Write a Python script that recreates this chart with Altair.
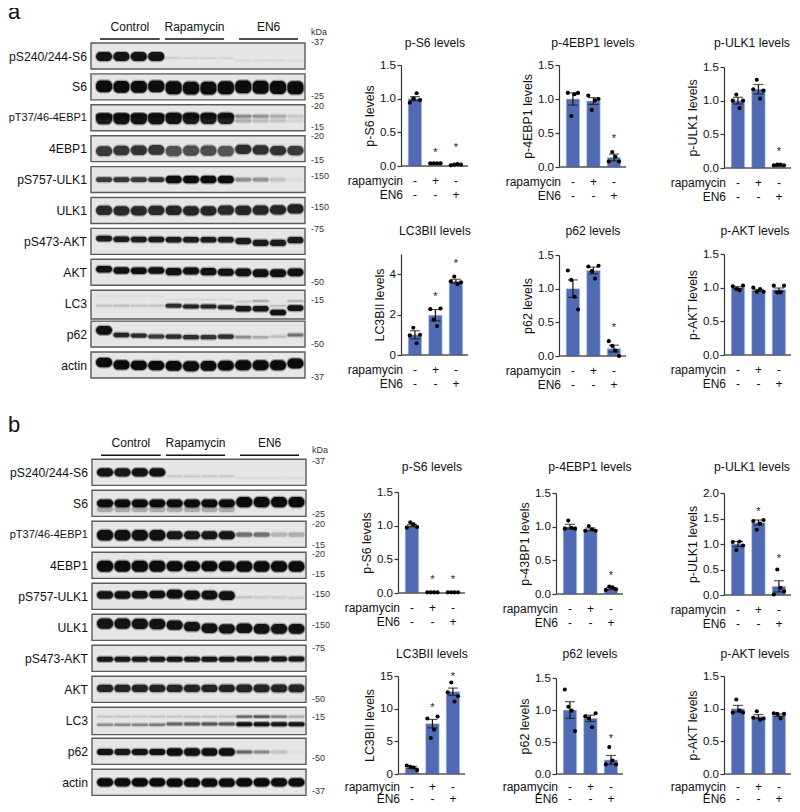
import altair as alt
import pandas as pd

FONT = "Liberation Sans"
BAR = "#4f6bb4"
LANES = list(range(12))

ROWS = ["pS240/244-S6", "S6", "pT37/46-4EBP1", "4EBP1", "pS757-ULK1", "ULK1",
        "pS473-AKT", "AKT", "LC3", "p62", "actin"]
GROUPS = ["Control", "Rapamycin", "EN6"]

def g(a, b, c):
    return [a] * 4 + [b] * 4 + [c] * 4

A_BOX = [.84, .84, .84, .84, .84, .84, .84, .84, .93, .84, .84]
B_BOX = [.84, .84, .84, .84, .84, .84, .84, .84, .88, .84, .84]

A_DARK = [
    [.95, .95, .95, .95, .08, .07, .07, .06, .05, .05, .05, .04],
    [1] * 12,
    [.92, .97, .97, .97, .95, .92, .9, .88, .2, .15, .12, .06],
    [.72, .74, .76, .74, .6, .62, .62, .58, .8, .78, .76, .72],
    [.72, .75, .72, .76, .98, .98, .98, .98, .32, .3, .12, .03],
    [.82, .82, .82, .82, .84, .84, .84, .82, .84, .84, .84, .86],
    [.9] * 12,
    [.97] * 12,
    [.14, .16, .13, .14, .8, .85, .85, .85, .92, .92, .97, .95],
    [.97, .85, .8, .72, .8, .8, .76, .78, .32, .22, .15, .45],
    [1] * 12,
]
A_THICK = [
    g(.29, .05, .05), g(.38, .42, .42), g(.36, .36, .1), g(.31, .33, .3),
    g(.15, .24, .12), g(.3, .3, .3), g(.18, .18, .2), g(.21, .23, .25),
    g(.06, .13, .18), [.28, .14, .13, .13, .14, .14, .14, .14, .09, .08, .07, .1],
    g(.3, .32, .32),
]
A_CENTER = [
    g(.44, .49, .57), [.4, .42, .42, .4, .45, .46, .46, .45, .42, .43, .44, .45],
    g(.45, .44, .52), [.5, .48, .47, .46, .5, .48, .48, .5, .44, .46, .48, .48],
    g(.42, .42, .42), [.42, .43, .43, .42, .42, .43, .43, .41, .42, .41, .4, .37],
    [.33, .35, .36, .36, .37, .37, .37, .37, .41, .47, .47, .38],
    [.32, .36, .37, .36, .4, .38, .4, .42, .42, .45, .45, .42],
    [.5, .5, .5, .5, .5, .53, .53, .55, .6, .6, .72, .58],
    [.3, .45, .47, .5, .5, .52, .52, .5, .52, .52, .5, .45],
    [.34, .42, .43, .44, .45, .46, .45, .44, .43, .43, .43, .37],
]
# second, upper bands: row, darkness per lane, thickness, centre
A_EXTRA = [
    (2, [.9, .97, .97, .97, .9, .9, .85, .85, .35, .3, .2, .1], g(.14, .14, .1), g(.36, .36, .37)),
    (8, [.03, .03, .03, .03, .03, .03, .04, .04, .1, .25, .15, .2], g(.05, .05, .05), [.2, .2, .2, .2, .3, .3, .3, .3, .37, .35, .5, .35]),
]

B_DARK = [
    [.95, .92, .95, .95, .1, .1, .1, .1, .04, .04, .04, .04],
    [1] * 12,
    [.97, .97, .97, .97, .92, .92, .92, .95, .45, .45, .17, .2],
    [1] * 12,
    [.95, .95, .95, .97, .98, .96, .96, .96, .1, .08, .08, .08],
    [.95, .95, .95, .95, .95, .95, .95, .95, .95, .95, .95, .95],
    [.92] * 12,
    [.85] * 12,
    [.32, .34, .36, .4, .5, .55, .58, .58, .95, .95, .92, .92],
    [.95, .92, .95, .97, .98, .97, .97, .97, .5, .35, .12, .02],
    [1] * 12,
]
B_THICK = [
    g(.27, .05, .04), g(.25, .25, .33), g(.34, .26, .13), g(.36, .33, .34),
    g(.24, .28, .08), g(.33, .3, .31), g(.16, .16, .16), g(.23, .23, .25),
    g(.08, .1, .13), g(.19, .24, .1), g(.27, .27, .27),
]
B_CENTER = [
    g(.42, .55, .6), g(.42, .42, .38), g(.45, .45, .43), g(.45, .45, .46),
    [.38, .38, .37, .36, .35, .38, .38, .4, .45, .45, .45, .47],
    [.3, .3, .31, .32, .35, .4, .45, .47, .45, .47, .47, .47],
    g(.45, .45, .44), g(.39, .39, .39), g(.56, .54, .55), g(.44, .44, .44),
    g(.42, .43, .42),
]
B_EXTRA = [
    (1, [.22] * 8 + [0] * 4, g(.2, .2, .1), g(.6, .6, .5)),
    (8, [.12, .12, .1, .12, .12, .14, .14, .12, .5, .6, .4, .2], g(.06, .06, .07), g(.3, .3, .3)),
]

A_KDA = [("kDa", -.36), ("-37", -.03), ("-25", 1.73), ("-20", 2.03), ("-15", 2.72),
         ("-20", 3.0), ("-15", 3.78), ("-150", 4.3), ("-150", 5.31), ("-75", 6.02),
         ("-50", 7.73), ("-15", 8.32), ("-50", 9.74), ("-37", 10.81)]
B_KDA = [("kDa", -.3), ("-37", .04), ("-25", 1.76), ("-20", 2.09), ("-15", 2.77),
         ("-20", 3.05), ("-15", 3.71), ("-150", 4.33), ("-150", 5.35), ("-75", 6.08),
         ("-50", 7.73), ("-15", 8.31), ("-50", 9.63), ("-37", 10.69)]

HEAD_SPANS = [(.27, 3.7), (4.0, 7.4), (8.26, 11.65)]

P_OFF = [-.25, -.08, .08, .25]

PANELS_A1 = [
    dict(t="p-S6 levels", yt="p-S6 levels", d=1.5, v=[0, .5, 1, 1.5], m=[1, .04, .02], e=[.03, .003, .005],
         p=[[.94, 1.0, 1.08, .98], [.04, .04, .04, .04], [.01, .02, .03, .02]], s=[(1, .22), (2, .3)]),
    dict(t="p-4EBP1 levels", yt="p-4EBP1 levels", d=1.5, v=[0, .5, 1, 1.5], m=[1, .97, .14], e=[.09, .05, .05],
         p=[[1.09, .75, 1.07, 1.09], [1.05, .84, .98, 1.0], [.08, .22, .15, .08]], s=[(2, .44)]),
    dict(t="p-ULK1 levels", yt="p-ULK1 levels", d=1.5, v=[0, .5, 1, 1.5], m=[1, 1.17, .04], e=[.05, .07, .005],
         p=[[1.0, 1.09, .89, 1.0], [1.17, 1.31, 1.03, 1.15], [.04, .05, .05, .04]], s=[(2, .26)]),
]
PANELS_A2 = [
    dict(t="LC3BII levels", yt="LC3BII levels", d=5, v=[0, 2, 4], m=[1, 1.97, 3.65], e=[.2, .28, .1],
         p=[[.97, 1.35, .58, 1.0], [2.27, 1.75, 1.43, 2.3], [3.65, 3.88, 3.5, 3.6]], s=[(1, 2.95), (2, 4.58)]),
    dict(t="p62 levels", yt="p62 levels", d=1.5, v=[0, .5, 1, 1.5], m=[1, 1.27, .11], e=[.13, .05, .05],
         p=[[1.27, 1.13, .88, .69], [1.33, 1.26, 1.15, 1.34], [.22, .15, .08, .0]], s=[(2, .44)]),
    dict(t="p-AKT levels", yt="p-AKT levels", d=1.5, v=[0, .5, 1, 1.5], m=[1, .96, .97], e=[.015, .015, .025],
         p=[[1.02, .98, .96, 1.03], [1.0, .94, .98, .94], [1.03, .93, .93, 1.03]], s=[]),
]
PANELS_B1 = [
    dict(t="p-S6 levels", yt="p-S6 levels", d=1.5, v=[0, .5, 1, 1.5], m=[1, .01, .01], e=[.015, .002, .002],
         p=[[.97, 1.05, 1.02, .98], [.01, .01, .01, .01], [.01, .01, .01, .01]], s=[(1, .23), (2, .23)]),
    dict(t="p-4EBP1 levels", yt="p-43BP1 levels", d=1.5, v=[0, .5, 1, 1.5], m=[1, .96, .08], e=[.035, .02, .015],
         p=[[.97, 1.09, .98, .97], [.94, 1.01, .96, .94], [.06, .11, .1, .07]], s=[(2, .3)]),
    dict(t="p-ULK1 levels", yt="p-ULK1 levels", d=2, v=[0, .5, 1, 1.5, 2], m=[1, 1.42, .17], e=[.05, .05, .11],
         p=[[1.04, .88, 1.05, .97], [1.45, 1.28, 1.4, 1.47], [.01, .5, .14, .07]], s=[(1, 1.67), (2, .74)]),
]
PANELS_B2 = [
    dict(t="LC3BII levels", yt="LC3BII levels", d=15, v=[0, 5, 10, 15], m=[1, 7.7, 12.6], e=[.15, .65, .55],
         p=[[1.3, 1.1, 1.0, .6], [8.5, 5.5, 6.8, 8.8], [12.5, 14, 11.1, 11.9]], s=[(1, 10.4), (2, 15.2)]),
    dict(t="p62 levels", yt="p62 levels", d=1.5, v=[0, .5, 1, 1.5], m=[1, .87, .22], e=[.13, .05, .07],
         p=[[1.32, 1.05, .99, .67], [.9, .87, .73, .95], [.15, .42, .21, .15]], s=[(2, .58)]),
    dict(t="p-AKT levels", yt="p-AKT levels", d=1.5, v=[0, .5, 1, 1.5], m=[1, .88, .9], e=[.05, .03, .02],
         p=[[.94, 1.14, .97, .94], [.86, .96, .83, .85], [.93, .92, .85, .92]], s=[]),
]
TREAT = [("rapamycin", ["-", "+", "-"]), ("EN6", ["-", "-", "+"])]


def blot(rows, box, dark, thick, center, extra, kda, xr, yd, yr, w, h, letter=None, header=False):
    xs = alt.Scale(domain=[-.25, 12.05], range=xr)
    ys = alt.Scale(domain=yd, range=yr)
    X = lambda f: alt.X(f, type="quantitative", scale=xs, axis=None)
    Y = lambda f: alt.Y(f, type="quantitative", scale=ys, axis=None)
    boxes, bands, labels = [], [], []
    for r in rows:
        boxes.append(dict(x=-.25, x2=12.05, y=r, y2=r + box[r]))
        labels.append(dict(x=-.48, y=r + .44, t=ROWS[r], fs=11 if ROWS[r].startswith("pT37") else 12.2))
        for l in LANES:
            bands.append(dict(x=l + .04, x2=l + .96, y=r + center[r][l] - thick[r][l] / 2,
                              y2=r + center[r][l] + thick[r][l] / 2, o=dark[r][l]))
    for r, d, t, c in extra:
        if r in rows:
            for l in LANES:
                bands.append(dict(x=l + .04, x2=l + .96, y=r + c[l] - t[l] / 2, y2=r + c[l] + t[l] / 2, o=d[l]))
    bands = pd.DataFrame(bands)
    halo = bands.copy()
    halo["x"] -= .06
    halo["x2"] += .06
    halo["y"] -= .04
    halo["y2"] += .04
    halo["o"] *= .35
    kd = pd.DataFrame([dict(x=12.4, y=y, t=t) for t, y in kda if (y >= yd[0] or yd[0] == 0) and y < yd[1]])
    layers = [
        alt.Chart(pd.DataFrame(boxes)).mark_rect(fill="#e6e6e6", stroke="#5a5a5a", strokeWidth=1.4).encode(
            x=X("x"), x2="x2", y=Y("y"), y2="y2"),
        alt.Chart(halo).mark_rect(color="#151515", cornerRadius=6).encode(
            x=X("x"), x2="x2", y=Y("y"), y2="y2", opacity=alt.Opacity("o:Q", scale=None)),
        alt.Chart(bands).mark_rect(color="#0c0c0c", cornerRadius=5).encode(
            x=X("x"), x2="x2", y=Y("y"), y2="y2", opacity=alt.Opacity("o:Q", scale=None)),
        alt.Chart(pd.DataFrame(labels)).mark_text(align="right", baseline="middle", color="#111").encode(
            x=X("x"), y=Y("y"), text="t:N", size=alt.Size("fs:Q", scale=None)),
        alt.Chart(kd).mark_text(align="left", baseline="middle", fontSize=9, color="#333").encode(
            x=X("x"), y=Y("y"), text="t:N"),
    ]
    if header:
        hs = pd.DataFrame([dict(x=a, x2=b, y=-.13, ty=-.52, xm=(a + b) / 2, t=n)
                           for (a, b), n in zip(HEAD_SPANS, GROUPS)])
        layers.append(alt.Chart(hs).mark_rule(color="#111", strokeWidth=1.6).encode(x=X("x"), x2="x2", y=Y("y")))
        layers.append(alt.Chart(hs).mark_text(fontSize=12, baseline="middle", color="#111").encode(
            x=X("xm"), y=Y("ty"), text="t:N"))
    if letter:
        layers.append(alt.Chart(pd.DataFrame([dict(t=letter[0])])).mark_text(
            fontSize=22, align="left", baseline="alphabetic", color="#111").encode(
            x=alt.value(0), y=alt.value(letter[1]), text="t:N"))
    return alt.layer(*layers).properties(width=w, height=h)


def bars(p, ax, top, base, tx, ty, w, h, gaps=(15, 14)):
    xs = alt.Scale(domain=[-.68, 2.59], range=[ax, ax + 67], padding=0)
    ys = alt.Scale(domain=[0, p["d"]], range=[base, top])
    X = lambda f: alt.X(f, type="quantitative", scale=xs, axis=None)
    fmt = ".1f" if p["d"] in (1.5, 2) else "d"
    AXIS = alt.Axis(values=p["v"], format=fmt, offset=-ax, grid=False, tickSize=4, tickColor="#333",
                    domainColor="#333", domainWidth=1.2, tickWidth=1.2, labelFontSize=11.6,
                    labelColor="#111", labelPadding=1.5, titleFontSize=12.4, titleFontWeight="normal",
                    titleColor="#111", titlePadding=3)
    Y = lambda f: alt.Y(f, type="quantitative", scale=ys, axis=AXIS, title=p["yt"])
    df = pd.DataFrame(dict(l=[0, 1, 2], m=p["m"], lo=[a - b for a, b in zip(p["m"], p["e"])],
                           hi=[a + b for a, b in zip(p["m"], p["e"])]))
    pts = pd.DataFrame([dict(x=l + P_OFF[i], v=v) for l, vs in enumerate(p["p"]) for i, v in enumerate(vs)])
    layers = [
        alt.Chart(df).mark_bar(size=13.5, color=BAR, orient="vertical", stroke="#c3cee6", strokeWidth=.6).encode(
            x=X("l"), y=Y("m")),
        alt.Chart(pd.DataFrame(dict(x=[-.68], x2=[2.59], y=[0]))).mark_rule(color="#555", strokeWidth=1.6).encode(
            x=X("x"), x2="x2", y=Y("y")),
        alt.Chart(df).mark_rule(color="#111", strokeWidth=1.2).encode(x=X("l"), y=Y("lo"), y2="hi"),
        alt.Chart(df).mark_tick(color="#111", orient="horizontal", size=10, thickness=1.2).encode(x=X("l"), y=Y("lo")),
        alt.Chart(df).mark_tick(color="#111", orient="horizontal", size=10, thickness=1.2).encode(x=X("l"), y=Y("hi")),
        alt.Chart(pts).mark_circle(color="#000", size=17, opacity=1).encode(x=X("x"), y=Y("v")),
        alt.Chart(pd.DataFrame(dict(t=[p["t"]]))).mark_text(fontSize=12.2, baseline="middle", color="#111").encode(
            x=alt.value(tx), y=alt.value(ty), text="t:N"),
    ]
    if p["s"]:
        st = pd.DataFrame([dict(l=a, v=b, t="*") for a, b in p["s"]])
        layers.append(alt.Chart(st).mark_text(fontSize=11, baseline="middle", dy=2, color="#222").encode(
            x=X("l"), y=Y("v"), text="t:N"))
    for i, (name, signs) in enumerate(TREAT):
        yp = base + gaps[0] + gaps[1] * i
        layers.append(alt.Chart(pd.DataFrame(dict(t=[name]))).mark_text(
            fontSize=12, align="right", baseline="middle", color="#111").encode(
            x=alt.value(ax + 2), y=alt.value(yp), text="t:N"))
        layers.append(alt.Chart(pd.DataFrame(dict(l=[0, 1, 2], t=signs))).mark_text(
            fontSize=12, baseline="middle", color="#111").encode(x=X("l"), y=alt.value(yp), text="t:N"))
    return alt.layer(*layers).properties(width=w, height=h)


COL_W = [382, 158, 168, 76]
ROW_H = [187, 215, 201, 193]
TITLE_Y = [35, 36, 57, 43]
RANGES = [
    [(57, 158), (57, 159), (59, 160)],
    [(59, 160), (60, 161), (59, 160)],
    [(82, 183), (83, 184), (83, 185)],
    [(65, 163), (67, 163), (65, 163)],
]
AX = [[11, 11, 8], [11, 11, 8], [8, 8, 8], [8, 8, 8]]
TX = [[45, 45, 36], [45, 45, 39], [42, 42, 36], [42, 42, 39]]
GAPS = [(15, 14), (15, 14), (15, 14), (12.5, 12)]

cells = [
    blot(range(0, 5), A_BOX, A_DARK, A_THICK, A_CENTER, A_EXTRA, A_KDA, [83, 297], [0, 5], [35, 189.5],
         COL_W[0], ROW_H[0], letter=("a", 11), header=True),
]
def add_row(idx, panels):
    for j, p in enumerate(panels):
        top, base = RANGES[idx][j]
        cells.append(bars(p, AX[idx][j], top, base, TX[idx][j], TITLE_Y[idx], COL_W[j + 1], ROW_H[idx], GAPS[idx]))

add_row(0, PANELS_A1)
cells.append(blot(range(5, 11), A_BOX, A_DARK, A_THICK, A_CENTER, A_EXTRA, A_KDA, [83, 297], [5, 11], [2.5, 187.9],
                  COL_W[0], ROW_H[1]))
add_row(1, PANELS_A2)
cells.append(blot(range(0, 5), B_BOX, B_DARK, B_THICK, B_CENTER, B_EXTRA, B_KDA, [84, 298], [0, 5], [49.3, 204.3],
                  COL_W[0], ROW_H[2], letter=("b", 22), header=True))
add_row(2, PANELS_B1)
cells.append(blot(range(5, 11), B_BOX, B_DARK, B_THICK, B_CENTER, B_EXTRA, B_KDA, [84, 298], [5, 11], [3.3, 189.3],
                  COL_W[0], ROW_H[3]))
add_row(3, PANELS_B2)

chart = (
    alt.concat(*cells, columns=4, spacing=0, bounds="flush")
    .properties(padding={"top": -7, "left": 0, "right": 0, "bottom": -1}, background="white")
    .configure_view(stroke=None).configure_axis(labelFont=FONT, titleFont=FONT).configure_text(font=FONT)
)
chart = chart.resolve_scale(x="independent", y="independent")
chart.save("out.html", embed_options={"renderer": "svg", "actions": False})
